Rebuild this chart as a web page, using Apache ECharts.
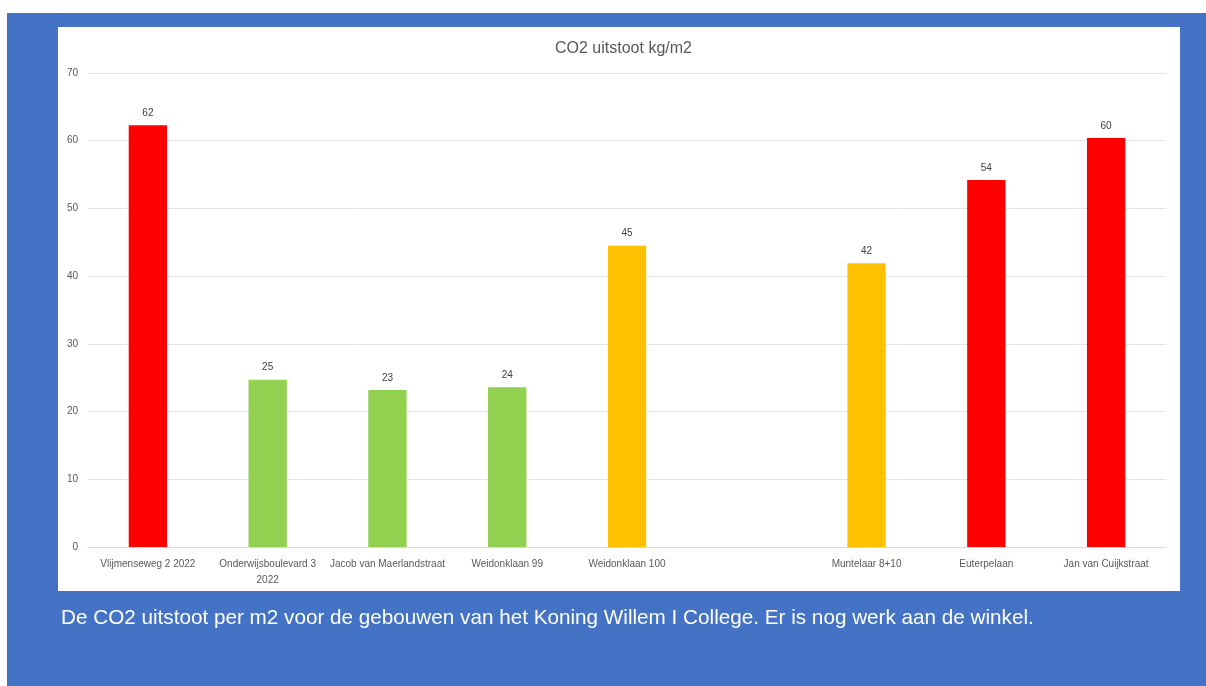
<!DOCTYPE html>
<html>
<head>
<meta charset="utf-8">
<script src="https://cdn.jsdelivr.net/npm/echarts@6/dist/echarts.min.js"></script>
<style>
html,body{margin:0;padding:0;background:#fff;}
#c{width:1206px;height:686px;}
</style>
</head>
<body>
<div id="c"></div>
<script>
const titleText = 'CO2 uitstoot kg/m2';
const captionText = 'De CO2 uitstoot per m2 voor de gebouwen van het Koning Willem I College. Er is nog werk aan de winkel.';
const categories = ['Vlijmenseweg 2 2022', 'Onderwijsboulevard 3\n2022', 'Jacob van Maerlandstraat', 'Weidonklaan 99', 'Weidonklaan 100', '', 'Muntelaar 8+10', 'Euterpelaan', 'Jan van Cuijkstraat'];
const values = [62.3, 24.7, 23.2, 23.6, 44.5, null, 41.9, 54.2, 60.4];
const barColors = ['#FF0000', '#92D050', '#92D050', '#92D050', '#FFC000', '#FFC000', '#FFC000', '#FF0000', '#FF0000'];
const yTicks = [0, 10, 20, 30, 40, 50, 60, 70];

const chart = echarts.init(document.getElementById('c'));
chart.setOption({
  animation: false,
  backgroundColor: '#ffffff',
  graphic: [
    {type: 'rect', z: -10, shape: {x: 7, y: 13, width: 1199, height: 673}, style: {fill: '#4472C4'}},
    {type: 'rect', z: -9, shape: {x: 58, y: 27, width: 1122, height: 564}, style: {fill: '#ffffff'}},
    {type: 'text', left: 61, top: 608, style: {text: captionText, fill: '#ffffff', font: '20.7px "Liberation Sans", sans-serif'}}
  ],
  title: {
    text: titleText, left: 550, top: 36,
    textStyle: {fontFamily: 'Liberation Sans', fontSize: 16, fontWeight: 'normal', color: '#595959'}
  },
  grid: {left: 88, right: 40, top: 73, bottom: 139},
  xAxis: {
    type: 'category', data: categories,
    axisLine: {lineStyle: {color: '#d9d9d9'}},
    axisTick: {show: false},
    axisLabel: {interval: 0, color: '#595959', fontFamily: 'Liberation Sans', fontSize: 10, margin: 9, lineHeight: 16}
  },
  yAxis: {
    type: 'value', min: 0, max: 70, interval: 10,
    axisLine: {show: false}, axisTick: {show: false},
    splitLine: {lineStyle: {color: '#e4e4e4'}},
    axisLabel: {color: '#595959', fontFamily: 'Liberation Sans', fontSize: 10, margin: 10,
      formatter: v => yTicks.includes(v) ? String(v) : ''}
  },
  series: [{
    type: 'bar', barWidth: '32%',
    data: values.map((v, i) => ({value: v, itemStyle: {color: barColors[i]}})),
    label: {show: true, position: 'top', distance: 7, color: '#404040', fontFamily: 'Liberation Sans', fontSize: 10,
      formatter: p => p.value == null ? '' : String(Math.round(p.value))}
  }]
});
</script>
</body>
</html>
